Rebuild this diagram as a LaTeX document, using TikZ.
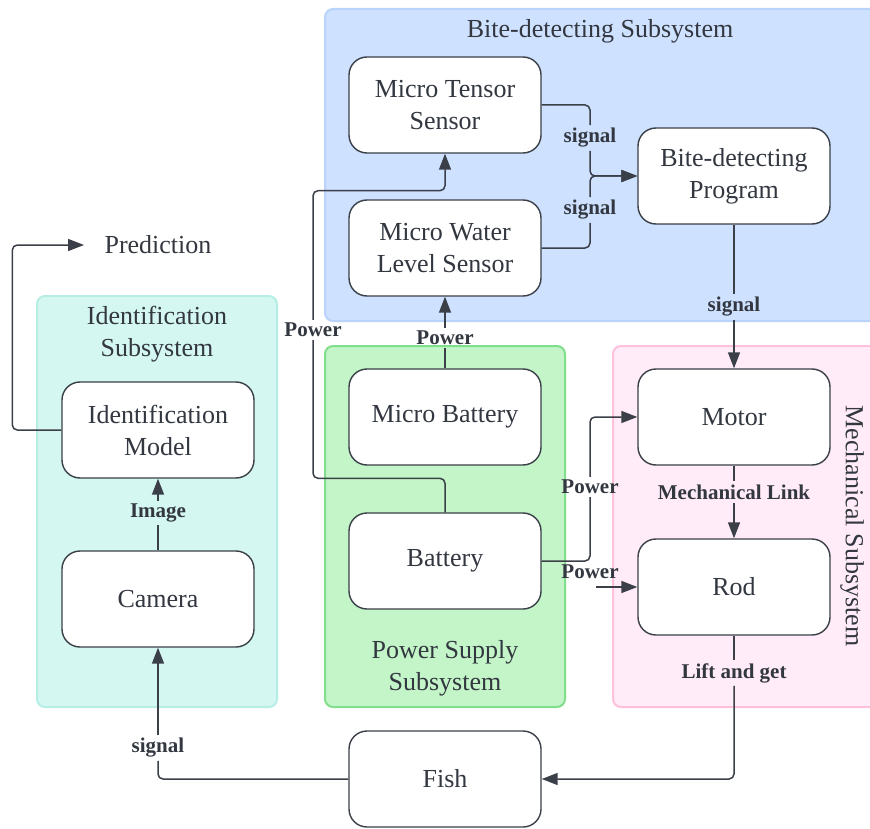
\documentclass[tikz,border=0pt]{standalone}
\usepackage{fontspec}
\setmainfont{Liberation Serif}
\usetikzlibrary{arrows.meta}

\definecolor{linegray}{RGB}{58,63,72}
\definecolor{textgray}{RGB}{50,55,64}
\definecolor{bitefill}{RGB}{206,225,255}
\definecolor{biteline}{RGB}{186,211,250}
\definecolor{identfill}{RGB}{213,247,241}
\definecolor{identline}{RGB}{182,238,230}
\definecolor{powerfill}{RGB}{195,245,200}
\definecolor{powerline}{RGB}{128,222,140}
\definecolor{mechfill}{RGB}{255,236,248}
\definecolor{mechline}{RGB}{255,192,220}

\tikzset{
  block/.style={draw=linegray, line width=1.4pt, fill=white, rounded corners=18pt,
    minimum width=192pt, minimum height=96pt, align=center, text=textgray,
    font=\fontsize{26}{32}\selectfont},
  group/.style={rounded corners=8pt, line width=2pt},
  grouptitle/.style={align=center, text=textgray, font=\fontsize{26}{32}\selectfont},
  lbl/.style={inner sep=3pt, text=textgray, font=\fontsize{21}{23}\selectfont\bfseries},
  conn/.style={draw=linegray, line width=1.5pt, rounded corners=5pt},
  arr/.style={conn, -{Triangle[length=16pt,width=12pt]}},
}

\begin{document}
\begin{tikzpicture}[x=1pt, y=-1pt]
\clip (0,0) rectangle (870,829);

% subsystems
\draw[group, fill=bitefill, draw=biteline] (325,9) rectangle (880,321);
\draw[group, fill=identfill, draw=identline] (37,296) rectangle (277,707);
\draw[group, fill=powerfill, draw=powerline] (325,346) rectangle (565,707);
\draw[group, fill=mechfill, draw=mechline] (613,346) rectangle (880,707);

\node[grouptitle] (bitetitle) at (600,31) {Bite-detecting Subsystem};
\node[grouptitle] (idtitle) at (157,334) {Identification\\Subsystem};
\node[grouptitle] (powertitle) at (445,668) {Power Supply\\Subsystem};
\node[grouptitle, rotate=-90] (mechtitle) at (852,526) {Mechanical Subsystem};
\node[grouptitle] (pred) at (158,245) {Prediction};

% blocks
\node[block] (mts) at (445,105) {Micro Tensor\\Sensor};
\node[block] (mwl) at (445,248) {Micro Water\\Level Sensor};
\node[block] (bdp) at (734,176) {Bite-detecting\\Program};
\node[block] (idm) at (158,430) {Identification\\Model};
\node[block] (cam) at (158,599) {Camera};
\node[block] (mbat) at (445,417) {Micro Battery};
\node[block] (bat) at (445,561) {Battery};
\node[block] (motor) at (734,417) {Motor};
\node[block] (rod) at (734,587) {Rod};
\node[block] (fish) at (445,779) {Fish};

% labels
\node[lbl] (sig1) at (590,138) {signal};
\node[lbl] (sig2) at (590,210) {signal};
\node[lbl] (sig3) at (734,307) {signal};
\node[lbl] (sig4) at (158,748) {signal};
\node[lbl] (pw1) at (445,338) {Power};
\node[lbl] (pw2) at (313,330) {Power};
\node[lbl] (pw3) at (590,487) {Power};
\node[lbl] (pw4) at (590,572) {Power};
\node[lbl] (mlink) at (734,492) {Mechanical Link};
\node[lbl] (lift) at (734,673) {Lift and get};
\node[lbl] (img) at (158,513) {Image};
\coordinate (rodin) at (596,587);

% connectors
\draw[conn] (mts.east) -| (sig1.north);
\draw[arr] (sig1.south) |- (bdp.west);
\draw[conn] (mwl.east) -| (sig2.south);
\draw[arr] (sig2.north) |- (bdp.west);
\draw[conn] (bdp.south) -- (sig3.north);
\draw[arr] (sig3.south) -- (motor.north);

\draw[conn] (mbat.north) -- (pw1.south);
\draw[arr] (pw1.north) -- (mwl.south);
\draw[conn] (bat.north) -- ++(0,-34) -| (pw2.south);
\draw[arr] (pw2.north) |- ([yshift=-37pt]mts.south) -- (mts.south);
\draw[conn] (bat.east) -| (pw3.south);
\draw[arr] (pw3.north) |- (motor.west);
\draw[arr] (rodin) -- (rod.west);

\draw[conn] (motor.south) -- (mlink.north);
\draw[arr] (mlink.south) -- (rod.north);
\draw[conn] (rod.south) -- (lift.north);
\draw[arr] (lift.south) |- (fish.east);

\draw[conn] (fish.west) -| (sig4.south);
\draw[arr] (sig4.north) -- (cam.south);
\draw[conn] (cam.north) -- (img.south);
\draw[arr] (img.north) -- (idm.south);
\draw[arr] (idm.west) -- ++(-49,0) |- ([xshift=-17pt]pred.west);

\end{tikzpicture}
\end{document}
